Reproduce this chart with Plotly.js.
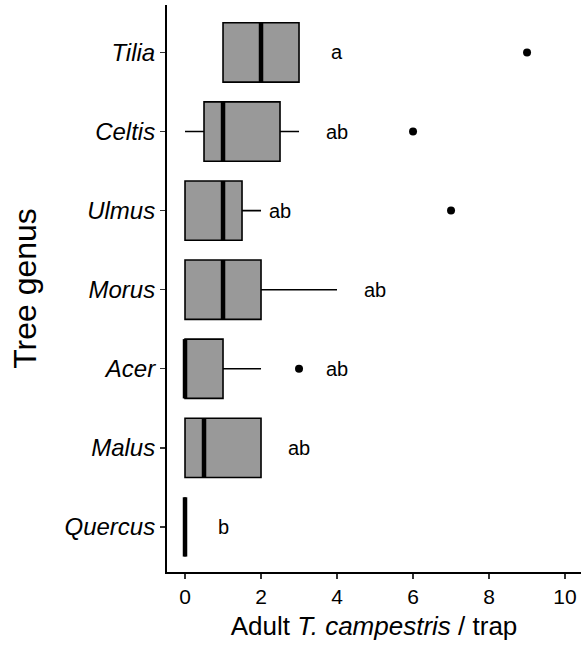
<!DOCTYPE html>
<html>
<head>
<meta charset="utf-8">
<script src="https://cdn.plot.ly/plotly-3.0.1.min.js"></script>
<style>html,body{margin:0;padding:0;background:#fff;}#chart{width:581px;height:647px;}</style>
</head>
<body>
<div id="chart"></div>
<script>
// Categories bottom -> top
const genera = ["Quercus", "Malus", "Acer", "Morus", "Ulmus", "Celtis", "Tilia"];
// Box statistics (adult T. campestris per trap)
const q1Vals        = [0, 0,   0, 0, 0,   0.5, 1];
const medianVals    = [0, 0.5, 0, 1, 1,   1,   2];
const q3Vals        = [0, 2,   1, 2, 1.5, 2.5, 3];
const lowerVals     = [0, 0,   0, 0, 0,   0,   1];
const upperVals     = [0, 2,   2, 4, 2,   3,   3];
// Outliers
const outlierGenus  = ["Acer", "Ulmus", "Celtis", "Tilia"];
const outlierVals   = [3, 7, 6, 9];
// Significance letters and their x placement
const letters       = ["b", "ab", "ab", "ab", "ab", "ab", "a"];
const letterX       = [1, 3, 4, 5, 2.5, 4, 4];

const pos = genera.map((g, i) => i);
const boxW = 0.75;

const boxTrace = {
  type: "box",
  orientation: "h",
  y: pos,
  q1: q1Vals,
  median: medianVals,
  q3: q3Vals,
  lowerfence: lowerVals,
  upperfence: upperVals,
  width: boxW,
  whiskerwidth: 0,
  fillcolor: "#999999",
  line: {color: "#000000", width: 1.6},
  boxpoints: false,
  hoverinfo: "skip",
  showlegend: false
};

const medX = [], medY = [];
medianVals.forEach((m, i) => {
  medX.push(m, m, null);
  medY.push(pos[i] - boxW / 2, pos[i] + boxW / 2, null);
});
const medianTrace = {
  type: "scatter", mode: "lines", x: medX, y: medY,
  line: {color: "#000000", width: 4.5}, hoverinfo: "skip", showlegend: false
};

const outlierTrace = {
  type: "scatter", mode: "markers",
  x: outlierVals,
  y: outlierGenus.map(g => genera.indexOf(g)),
  marker: {color: "#000000", size: 8},
  hoverinfo: "skip", showlegend: false
};

const font = "Liberation Sans, Arial, sans-serif";
const annotations = letters.map((t, i) => ({
  x: letterX[i], y: pos[i], xref: "x", yref: "y", text: t, showarrow: false,
  xanchor: "center", yanchor: "middle",
  font: {family: font, size: 20, color: "#000000"}
}));

const layout = {
  width: 581, height: 647,
  margin: {l: 167, r: 0, t: 5, b: 75},
  paper_bgcolor: "#ffffff", plot_bgcolor: "#ffffff",
  showlegend: false,
  font: {family: font, color: "#000000"},
  xaxis: {
    range: [-0.474, 10.42],
    tickvals: [0, 2, 4, 6, 8, 10],
    showgrid: false, zeroline: false,
    showline: true, linecolor: "#000000", linewidth: 2,
    ticks: "outside", ticklen: 5, tickwidth: 1.3, tickcolor: "#333333",
    tickfont: {family: font, size: 21, color: "#000000"},
    title: {text: "Adult <i>T. campestris</i> / trap", font: {family: font, size: 26, color: "#000000"}, standoff: 10},
    fixedrange: true
  },
  yaxis: {
    range: [-0.57, 6.6],
    tickvals: pos,
    ticktext: genera.map(g => "<i>" + g + "</i>"),
    showgrid: false, zeroline: false,
    showline: true, linecolor: "#000000", linewidth: 2,
    ticks: "outside", ticklen: 5, tickwidth: 1.3, tickcolor: "#333333",
    tickfont: {family: font, size: 24, color: "#000000"},
    title: {text: "Tree genus", font: {family: font, size: 32, color: "#000000"}, standoff: 18},
    fixedrange: true
  },
  boxmode: "overlay",
  annotations: annotations
};

Plotly.newPlot("chart", [boxTrace, medianTrace, outlierTrace], layout, {staticPlot: true, displayModeBar: false});
</script>
</body>
</html>
